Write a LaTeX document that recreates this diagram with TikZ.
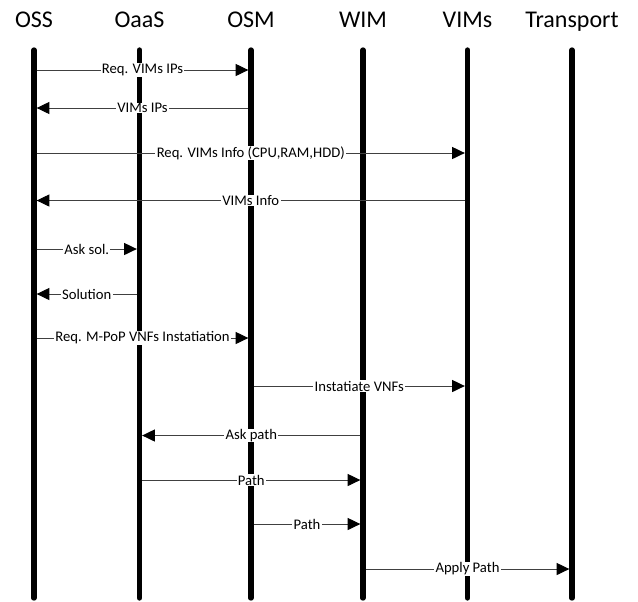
\documentclass[tikz,border=0pt]{standalone}
\usepackage{fontspec}
\setmainfont{Carlito}
\usetikzlibrary{arrows.meta}

\begin{document}
\begin{tikzpicture}[
    x=0.75pt, y=-0.75pt,
    title/.style={anchor=base, inner sep=0pt, font=\fontsize{18}{20}\selectfont},
    lifeline/.style={line width=4pt, line cap=round},
    msg/.style={draw=black!75, line width=0.75pt, shorten <=2pt, shorten >=2pt,
        -{Triangle[length=9.5pt, width=9pt, color=black]}},
    lbl/.style={fill=white, inner xsep=1pt, inner ysep=0.5pt, font=\fontsize{11}{13}\selectfont}
]
\useasboundingbox (0,0) rectangle (638,601);

% Row 0: actors
\node (oss)   [title] at (34,27)    {OSS};
\node (oaas)  [title] at (139.5,27) {OaaS};
\node (osm)   [title] at (251,27)   {OSM};
\node (wim)   [title] at (363,27)   {WIM};
\node (vims)  [title] at (467.5,27) {VIMs};
\node (trans) [title] at (572,27)   {Transport};

% Lifelines
\coordinate (top) at (0,50);
\coordinate (bot) at (0,598);
\foreach \n in {oss,oaas,osm,wim,vims,trans}
    \draw[lifeline] (\n |- top) -- (\n |- bot);

% Message rows
\coordinate (m1) at (0,70);
\coordinate (m2) at (0,108);
\coordinate (m3) at (0,153);
\coordinate (m4) at (0,200.5);
\coordinate (m5) at (0,249);
\coordinate (m6) at (0,294);
\coordinate (m7) at (0,338);
\coordinate (m8) at (0,386);
\coordinate (m9) at (0,435.5);
\coordinate (m10) at (0,480);
\coordinate (m11) at (0,524);
\coordinate (m12) at (0,569);

% Resource discovery
\draw[msg] (oss |- m1) -- node[lbl] {Req. VIMs IPs} (osm |- m1);
\draw[msg] (osm |- m2) -- node[lbl] {VIMs IPs} (oss |- m2);
\draw[msg] (oss |- m3) -- node[lbl] {Req. VIMs Info (CPU,RAM,HDD)} (vims |- m3);
\draw[msg] (vims |- m4) -- node[lbl] {VIMs Info} (oss |- m4);

% Placement solution
\draw[msg] (oss |- m5) -- node[lbl] {Ask sol.} (oaas |- m5);
\draw[msg] (oaas |- m6) -- node[lbl] {Solution} (oss |- m6);

% Instantiation
\draw[msg] (oss |- m7) -- node[lbl] {Req. M-PoP VNFs Instatiation} (osm |- m7);
\draw[msg] (osm |- m8) -- node[lbl] {Instatiate VNFs} (vims |- m8);

% Path setup
\draw[msg] (wim |- m9) -- node[lbl] {Ask path} (oaas |- m9);
\draw[msg] (oaas |- m10) -- node[lbl] {Path} (wim |- m10);
\draw[msg] (osm |- m11) -- node[lbl] {Path} (wim |- m11);
\draw[msg] (wim |- m12) -- node[lbl] {Apply Path} (trans |- m12);

\end{tikzpicture}
\end{document}
